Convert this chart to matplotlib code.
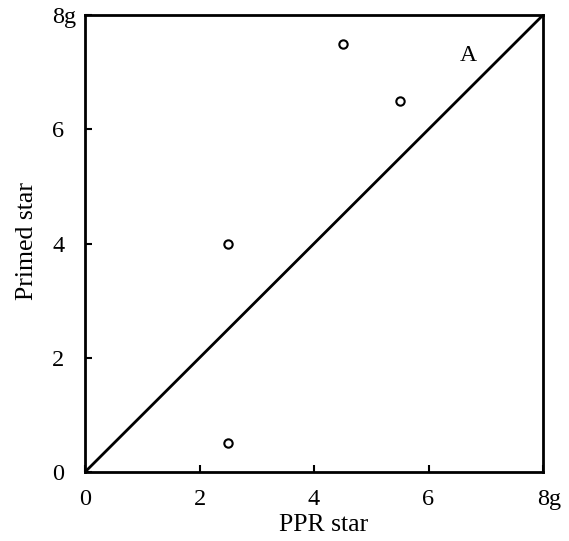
import matplotlib.pyplot as plt
import matplotlib.transforms as mtransforms
import numpy as np

plt.rcParams['font.family'] = ['Liberation Serif', 'DejaVu Serif']

# data
ppr = [2.5, 2.5, 4.5, 5.5]
primed = [0.5, 4.0, 7.5, 6.5]
ticks = [0, 2, 4, 6, 8]
tick_labels = ['0', '2', '4', '6', '8g']
line_x = [0, 8]
line_y = [0, 8]

fig = plt.figure(figsize=(5.69, 5.41), dpi=100)
ax = fig.add_axes([0.1494, 0.1275, 0.805, 0.8447])

ax.plot(line_x, line_y, color='black', lw=2)
ax.plot(ppr, primed, 'o', mfc='white', mec='black', mew=1.5, ms=6, ls='none')
ax.text(6.69, 7.3, 'A', fontsize=17, ha='center', va='center')

ax.set_xlim(0, 8)
ax.set_ylim(0, 8)
ax.set_xticks(ticks)
ax.set_yticks(ticks)
ax.set_xticklabels(tick_labels)
ax.set_yticklabels(tick_labels, ha='left')
ax.tick_params(direction='in', length=5, width=1.5, labelsize=17.5)
ax.tick_params(axis='x', pad=12)
ax.tick_params(axis='y', pad=23.5)
for s in ax.spines.values():
    s.set_linewidth(2)

# the "8" of "8g" sits on the tick, the "g" hangs to the right
last = ax.get_xticklabels()[-1]
last.set_transform(last.get_transform() +
                   mtransforms.ScaledTranslation(0.06, 0, fig.dpi_scale_trans))

ax.set_xlabel('PPR star', fontsize=18.5, labelpad=3)
ax.set_ylabel('Primed star', fontsize=18.5)
ax.yaxis.set_label_coords(-0.1026, 0.505)
ax.xaxis.label.set_x(0.52)

plt.savefig('out.png', dpi=100)
